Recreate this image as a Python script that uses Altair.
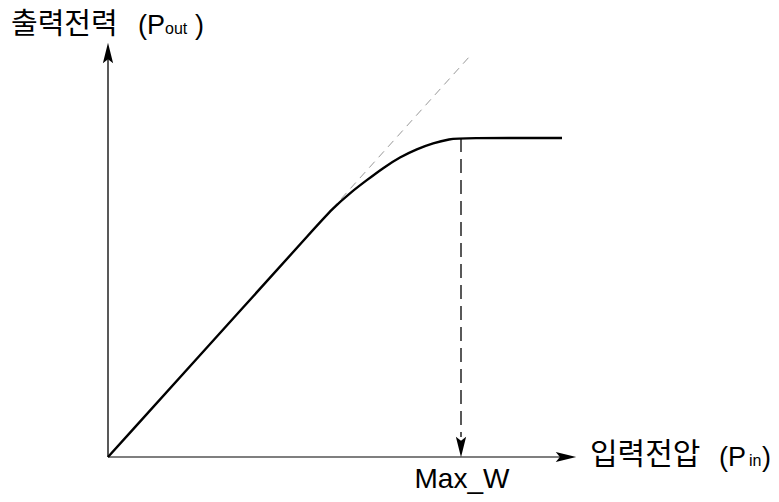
import altair as alt
import pandas as pd

# --- data (schematic units) ---
pin_curve = [0, 150, 205, 225, 242, 259, 275, 292, 309, 325, 342, 353, 454]
pout_curve = [0, 166, 227, 249, 264, 277, 289, 300, 308, 314, 318, 319, 319]

ideal_pin = [205, 362]
ideal_pout = [227, 401]

max_w_pin = 353
max_w_pout = 319

axis_x_end = 458
axis_y_end = 404

arrow_x = [0, axis_x_end, max_w_pin]
arrow_y = [axis_y_end, 0, 10]
arrow_angle = [0, 90, 180]

ARROW = "M0,-1L0.5,1L0,0.6L-0.5,1Z"

xs = alt.Scale(domain=[-100, 663], nice=False, zero=False)
ys = alt.Scale(domain=[-37, 449], nice=False, zero=False)

curve_df = pd.DataFrame({"pin": pin_curve, "pout": pout_curve})
ideal_df = pd.DataFrame({"pin": ideal_pin, "pout": ideal_pout})
vert_df = pd.DataFrame({"x": [max_w_pin], "y": [max_w_pout], "y2": [20]})
xaxis_df = pd.DataFrame({"x": [0], "x2": [axis_x_end], "y": [0]})
yaxis_df = pd.DataFrame({"x": [0], "y": [0], "y2": [axis_y_end]})
arrow_df = pd.DataFrame({"x": arrow_x, "y": arrow_y, "angle": arrow_angle})

def X(f):
    return alt.X(f, type="quantitative", scale=xs, axis=None)

def Y(f):
    return alt.Y(f, type="quantitative", scale=ys, axis=None)

curve = alt.Chart(curve_df).mark_line(color="black", strokeWidth=2.4, interpolate="basis").encode(
    x=X("pin"), y=Y("pout"))

ideal = alt.Chart(ideal_df).mark_line(color="#999999", strokeWidth=1, strokeDash=[8, 6]).encode(
    x=X("pin"), y=Y("pout"))

vert = alt.Chart(vert_df).mark_rule(color="black", strokeWidth=1.3, strokeDash=[14, 7]).encode(
    x=X("x"), y=Y("y"), y2="y2")

xaxis = alt.Chart(xaxis_df).mark_rule(color="#555555", strokeWidth=1.5).encode(
    x=X("x"), x2="x2", y=Y("y"))

yaxis = alt.Chart(yaxis_df).mark_rule(color="#222222", strokeWidth=1.5).encode(
    x=X("x"), y=Y("y"), y2="y2")

arrows = alt.Chart(arrow_df).mark_point(shape=ARROW, filled=True, size=420, color="black", opacity=1).encode(
    x=X("x"), y=Y("y"), angle=alt.Angle("angle:Q", scale=None))

# --- labels ---
lab_text = ["출력전력", "(P", "out", ")", "입력전압", "(P", "in", ")", "Max_W"]
lab_x = [-97, 30, 57, 87, 482, 611, 641, 654, 354]
lab_y = [423, 423, 423, 423, -7, -9, -9, -9, -31]
lab_size = [29, 27, 16, 27, 30, 27, 16, 27, 28]
lab_font = ["Noto Sans CJK KR", "Liberation Sans", "Liberation Sans", "Liberation Sans",
            "Noto Sans CJK KR", "Liberation Sans", "Liberation Sans", "Liberation Sans",
            "Liberation Sans"]
lab_align = ["left", "left", "left", "left", "left", "left", "left", "left", "center"]

labels = []
for t, x, y, s, f, a in zip(lab_text, lab_x, lab_y, lab_size, lab_font, lab_align):
    d = pd.DataFrame({"x": [x], "y": [y], "t": [t]})
    labels.append(alt.Chart(d).mark_text(fontSize=s, font=f, align=a, baseline="alphabetic",
                                         color="black").encode(x=X("x"), y=Y("y"), text="t:N"))

chart = alt.layer(ideal, xaxis, yaxis, vert, curve, arrows, *labels).properties(
    width=763, height=486, padding=0, background="white",
    autosize=alt.AutoSizeParams(type="none")
).configure_view(stroke=None)

chart.save("out.html", embed_options={"renderer": "svg", "actions": False})
